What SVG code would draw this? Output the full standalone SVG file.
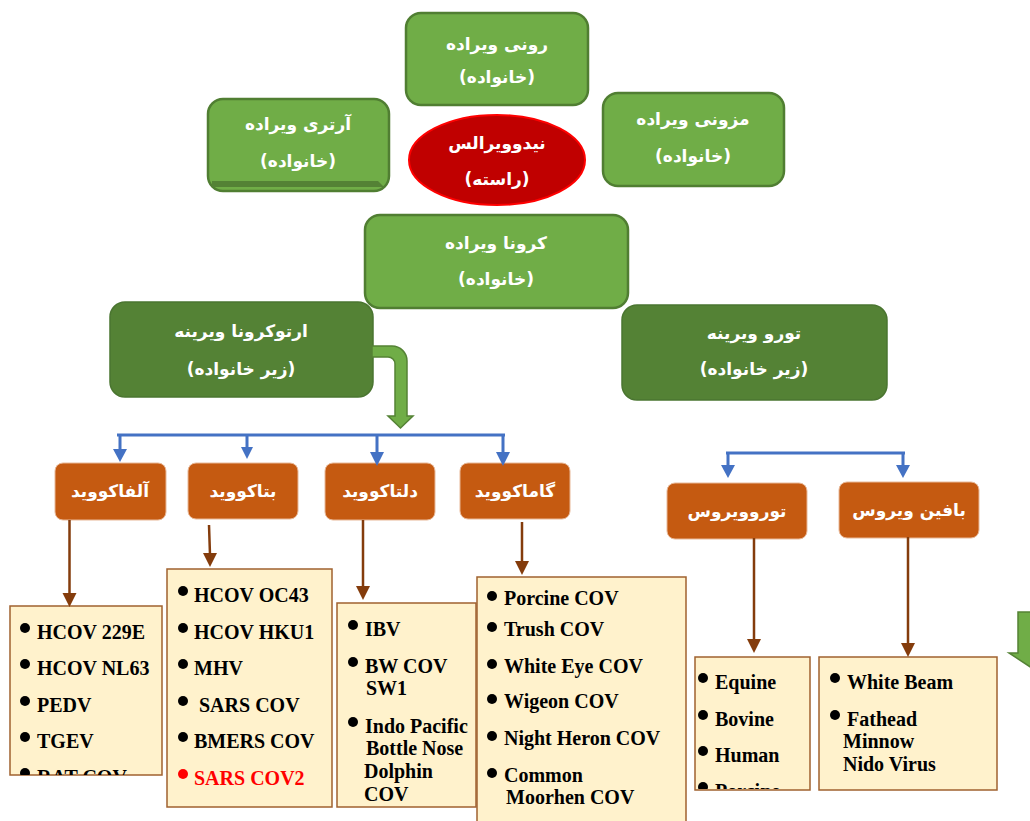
<svg xmlns="http://www.w3.org/2000/svg" width="1030" height="821" viewBox="0 0 1030 821">
<style>
.lg{fill:#70AD47;stroke:#507E32;stroke-width:2.5}
.dg{fill:#548235;stroke:#4A7530;stroke-width:1.5}
.or{fill:#C55A11;stroke:#E8B898;stroke-width:1}
.lb{fill:#FFF2CC;stroke:#A0612F;stroke-width:1.5}
.fa{font-family:"DejaVu Sans",sans-serif;font-weight:bold;font-size:17px;fill:#FFFFFF;text-anchor:middle}
.en{font-family:"Liberation Serif","Times New Roman",serif;font-weight:bold;font-size:20px;fill:#000000}
.red{fill:#FF0000}
.blue{stroke:#4472C4;stroke-width:3;fill:none}
.bh{fill:#4472C4}
.br{stroke:#843C0C;stroke-width:2.5;fill:none}
.brh{fill:#843C0C}
.ga{fill:#70AD47;stroke:#548235;stroke-width:1.5}
circle{r:5}
</style>
<defs>
<clipPath id="c1"><rect x="10" y="606" width="152" height="169"/></clipPath>
<clipPath id="c5"><rect x="695" y="657" width="115" height="132"/></clipPath>
</defs>

<g id="rooni">
<rect class="lg" x="406" y="13" width="182" height="92" rx="15"/>
<text class="fa" direction="rtl" x="497" y="50">رونی ویراده</text>
<text class="fa" direction="rtl" x="497" y="83">(خانواده)</text>
</g>
<g id="arteri">
<rect class="lg" x="208" y="99" width="181" height="92" rx="15"/>
<path d="M212,181 H378 L384,187 H212 Z" fill="#548235"/>
<text class="fa" direction="rtl" x="298" y="130">آرتری ویراده</text>
<text class="fa" direction="rtl" x="298" y="167">(خانواده)</text>
</g>
<g id="nidovirales">
<ellipse cx="497" cy="160" rx="88" ry="45" fill="#C00000" stroke="#FF0000" stroke-width="2"/>
<text class="fa" direction="rtl" x="497" y="149">نیدوویرالس</text>
<text class="fa" direction="rtl" x="497" y="185">(راسته)</text>
</g>
<g id="mezoni">
<rect class="lg" x="603" y="93" width="181" height="93" rx="15"/>
<text class="fa" direction="rtl" x="693" y="125">مزونی ویراده</text>
<text class="fa" direction="rtl" x="693" y="162">(خانواده)</text>
</g>
<g id="corona">
<rect class="lg" x="365" y="215" width="263" height="93" rx="15"/>
<text class="fa" direction="rtl" x="496" y="249">کرونا ویراده</text>
<text class="fa" direction="rtl" x="496" y="285">(خانواده)</text>
</g>
<g id="orthocorona">
<rect class="dg" x="110" y="302" width="263" height="95" rx="15"/>
<text class="fa" direction="rtl" x="241" y="337">ارتوکرونا ویرینه</text>
<text class="fa" direction="rtl" x="241" y="375">(زیر خانواده)</text>
</g>
<g id="toro">
<rect class="dg" x="622" y="305" width="265" height="95" rx="15"/>
<text class="fa" direction="rtl" x="754" y="339">تورو ویرینه</text>
<text class="fa" direction="rtl" x="754" y="375">(زیر خانواده)</text>
</g>

<g id="alfa">
<rect class="or" x="55" y="463" width="111" height="57" rx="8"/>
<text class="fa" direction="rtl" x="110" y="497">آلفاکووید</text>
</g>
<g id="beta">
<rect class="or" x="188" y="463" width="110" height="56" rx="8"/>
<text class="fa" direction="rtl" x="243" y="497">بتاکووید</text>
</g>
<g id="delta">
<rect class="or" x="325" y="463" width="110" height="57" rx="8"/>
<text class="fa" direction="rtl" x="380" y="497">دلتاکووید</text>
</g>
<g id="gama">
<rect class="or" x="460" y="463" width="110" height="56" rx="8"/>
<text class="fa" direction="rtl" x="515" y="497">گاماکووید</text>
</g>
<g id="torovirus">
<rect class="or" x="667" y="483" width="140" height="56" rx="8"/>
<text class="fa" direction="rtl" x="737" y="517">توروویروس</text>
</g>
<g id="bafin">
<rect class="or" x="839" y="482" width="140" height="56" rx="8"/>
<text class="fa" direction="rtl" x="909" y="516">بافین ویروس</text>
</g>

<g id="list-alfa">
<rect class="lb" x="10" y="606" width="152" height="169"/>
<g clip-path="url(#c1)">
<circle cx="25" cy="628" r="5"/><text class="en" x="37" y="639">HCOV 229E</text>
<circle cx="25" cy="664" r="5"/><text class="en" x="37" y="675">HCOV NL63</text>
<circle cx="25" cy="701" r="5"/><text class="en" x="37" y="712">PEDV</text>
<circle cx="25" cy="737" r="5"/><text class="en" x="37" y="748">TGEV</text>
<circle cx="25" cy="773" r="5"/><text class="en" x="37" y="784">RAT COV</text>
</g>
</g>
<g id="list-beta">
<rect class="lb" x="167" y="569" width="165" height="238"/>
<circle cx="183" cy="591" r="5"/><text class="en" x="194" y="602">HCOV OC43</text>
<circle cx="183" cy="628" r="5"/><text class="en" x="194" y="639">HCOV HKU1</text>
<circle cx="183" cy="664" r="5"/><text class="en" x="194" y="675">MHV</text>
<circle cx="183" cy="701" r="5"/><text class="en" x="199" y="712">SARS COV</text>
<circle cx="183" cy="737" r="5"/><text class="en" x="194" y="748">BMERS COV</text>
<circle cx="183" cy="774" r="5" class="red"/><text class="en red" x="194" y="785">SARS COV2</text>
</g>
<g id="list-delta">
<rect class="lb" x="337" y="603" width="139" height="204"/>
<circle cx="353" cy="625" r="5"/><text class="en" x="365" y="636">IBV</text>
<circle cx="353" cy="662" r="5"/><text class="en" x="365" y="673">BW COV</text>
<text class="en" x="366" y="695">SW1</text>
<circle cx="353" cy="722" r="5"/><text class="en" x="365" y="733">Indo Pacific</text>
<text class="en" x="366" y="755">Bottle Nose</text>
<text class="en" x="364" y="778">Dolphin</text>
<text class="en" x="364" y="801">COV</text>
</g>
<g id="list-gama">
<rect class="lb" x="477" y="577" width="209" height="260"/>
<circle cx="492" cy="596" r="5"/><text class="en" x="504" y="605">Porcine COV</text>
<circle cx="492" cy="627" r="5"/><text class="en" x="504" y="636">Trush COV</text>
<circle cx="492" cy="664" r="5"/><text class="en" x="504" y="673">White Eye COV</text>
<circle cx="492" cy="699" r="5"/><text class="en" x="504" y="708">Wigeon COV</text>
<circle cx="492" cy="736" r="5"/><text class="en" x="504" y="745">Night Heron COV</text>
<circle cx="492" cy="773" r="5"/><text class="en" x="504" y="782">Common</text>
<text class="en" x="506" y="804">Moorhen COV</text>
</g>
<g id="list-toro">
<rect class="lb" x="695" y="657" width="115" height="133"/>
<g clip-path="url(#c5)">
<circle cx="703" cy="678" r="5"/><text class="en" x="715" y="689">Equine</text>
<circle cx="703" cy="715" r="5"/><text class="en" x="715" y="726">Bovine</text>
<circle cx="703" cy="751" r="5"/><text class="en" x="715" y="762">Human</text>
<circle cx="703" cy="787" r="5"/><text class="en" x="715" y="798">Porcine</text>
</g>
</g>
<g id="list-bafin">
<rect class="lb" x="819" y="657" width="178" height="133"/>
<circle cx="835" cy="678" r="5"/><text class="en" x="847" y="689">White Beam</text>
<circle cx="835" cy="715" r="5"/><text class="en" x="847" y="726">Fathead</text>
<text class="en" x="843" y="748">Minnow</text>
<text class="en" x="843" y="771">Nido Virus</text>
</g>

<g id="connectors">
<path class="ga" d="M372,346 H392 A15,15 0 0 1 407,361 V416 H413 L400.5,428 L388,416 H395 V364 A7,7 0 0 0 388,357 H372 Z"/>
<path class="blue" d="M117,435 H505 M120,435 V450 M247,435 V448 M377,435 V453 M503,435 V453"/>
<polygon class="bh" points="113,449 127,449 120,462"/>
<polygon class="bh" points="241,447 253,447 247,459"/>
<polygon class="bh" points="370,452 384,452 377,466"/>
<polygon class="bh" points="496,452 510,452 503,466"/>
<path class="blue" d="M726,453 H905 M728,453 V466 M903,453 V466"/>
<polygon class="bh" points="721,465 735,465 728,478"/>
<polygon class="bh" points="896,465 910,465 903,478"/>
<path class="br" d="M69.5,520 V595 M209,525 L210,555 M363,520 V588 M522,522 V563 M754,538 V641 M908,537 V645"/>
<polygon class="brh" points="62.5,593 76.5,593 69.5,607"/>
<polygon class="brh" points="203,553 217,553 210,567"/>
<polygon class="brh" points="356,586 370,586 363,600"/>
<polygon class="brh" points="515,561 529,561 522,575"/>
<polygon class="brh" points="747,639 761,639 754,653"/>
<polygon class="brh" points="901,643 915,643 908,657"/>
<path class="ga" d="M1018,612 H1052 V653 H1061 L1035,670 L1009,653 H1018 Z"/>
</g>
</svg>
